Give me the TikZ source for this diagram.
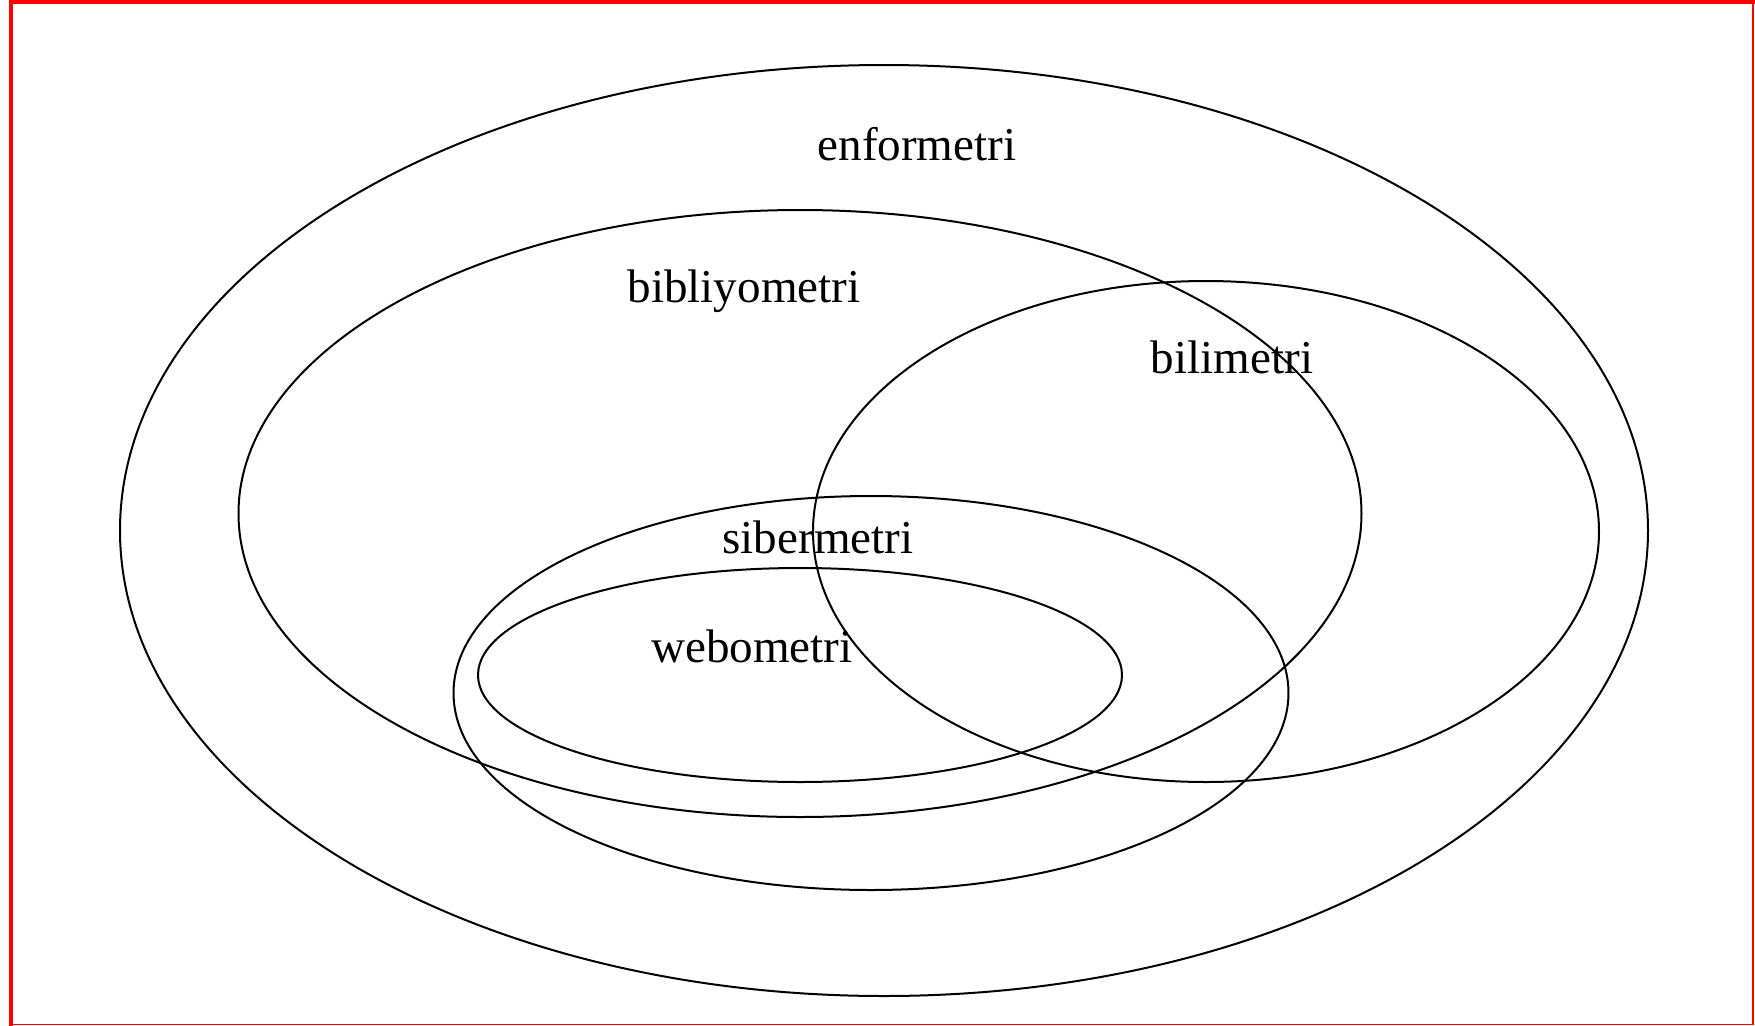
\documentclass[tikz,border=0pt]{standalone}
\usepackage{fontspec}
\setmainfont{Liberation Serif}
\usepackage{tikz}

\begin{document}
\begin{tikzpicture}[
  x=0.1mm,y=-0.1mm,
  set/.style={draw=black, line width=0.2mm},
  setname/.style={font=\fontsize{13.4}{16}\selectfont, anchor=base, inner sep=0pt}
]
\useasboundingbox (0,0) rectangle (1755,1026);
% frame
\draw[red, line width=0.4mm] (11,1026) -- (11,2) -- (1755,2);
\draw[red, line width=0.15mm] (1753,2) -- (1753,1024.5) -- (11,1024.5);
% sets
\draw[set] (884,530.5) ellipse [x radius=764, y radius=465.5];
\draw[set] (800,513.5) ellipse [x radius=561.5, y radius=303.5];
\draw[set] (1206,531.5) ellipse [x radius=393, y radius=250.5];
\draw[set] (871,693) ellipse [x radius=417.5, y radius=197];
\draw[set] (800,675) ellipse [x radius=322, y radius=107];
% names
\node[setname] (enf) at (917,160) {enformetri};
\node[setname] (bib) at (744,302) {bibliyometri};
\node[setname] (bil) at (1232,373) {bilimetri};
\node[setname] (sib) at (818,553) {sibermetri};
\node[setname] (web) at (752,662) {webometri};
\end{tikzpicture}
\end{document}
